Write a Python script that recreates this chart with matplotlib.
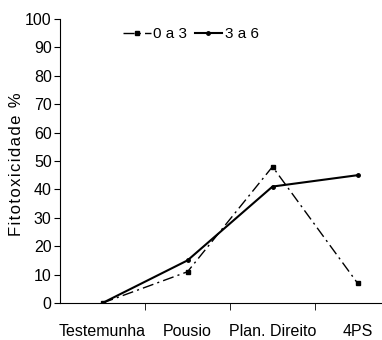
import matplotlib
matplotlib.use("Agg")
import matplotlib.pyplot as plt

categories = ["Testemunha", "Pousio", "Plan. Direito", "4PS"]
serie_0a3 = [0, 11, 48, 7]
serie_3a6 = [0, 15, 41, 45]
labels = ["0 a 3", "3 a 6"]

plt.rcParams["font.family"] = ["Liberation Sans", "DejaVu Sans"]

fig = plt.figure(figsize=(3.82, 3.4), dpi=100)
ax = fig.add_axes([60/382, 37/340, 340/382, 284/340])

x = list(range(len(categories)))
ax.plot(x, serie_0a3, color="black", lw=1.0, ls=(0, (8, 3, 1.5, 3)),
        marker="s", ms=3, label=labels[0])
ax.plot(x, serie_3a6, color="black", lw=1.5, ls="-",
        marker="o", ms=2.5, label=labels[1])

ax.set_xlim(-0.5, 3.5)
ax.set_ylim(0, 100)
ax.set_yticks(range(0, 101, 10))
ax.set_xticks(x)
ax.set_xticklabels(categories, fontsize=11.5)
ax.set_xticks([0.5, 1.5, 2.5], minor=True)
ax.tick_params(axis="x", which="major", length=0, pad=15)
ax.tick_params(axis="x", which="minor", length=5, direction="out")
ax.tick_params(axis="y", length=4, direction="out", labelsize=11.5, pad=2)
for s in ["top", "right"]:
    ax.spines[s].set_visible(False)
ax.spines["left"].set_linewidth(0.8)
ax.spines["bottom"].set_linewidth(0.8)
ax.spines["bottom"].set_clip_on(False)

hs = "\u200a"
ax.set_ylabel(hs.join("Fitotoxicidade %"), fontsize=12)
ax.yaxis.set_label_coords(-0.105, 0.49)
ax.legend(loc="center", bbox_to_anchor=(0.385, 1.0 - 15 / 284),
          ncol=2, frameon=False, fontsize=11, handlelength=1.8,
          handletextpad=0.15, columnspacing=0.5)

fig.savefig("out.png", dpi=100)
